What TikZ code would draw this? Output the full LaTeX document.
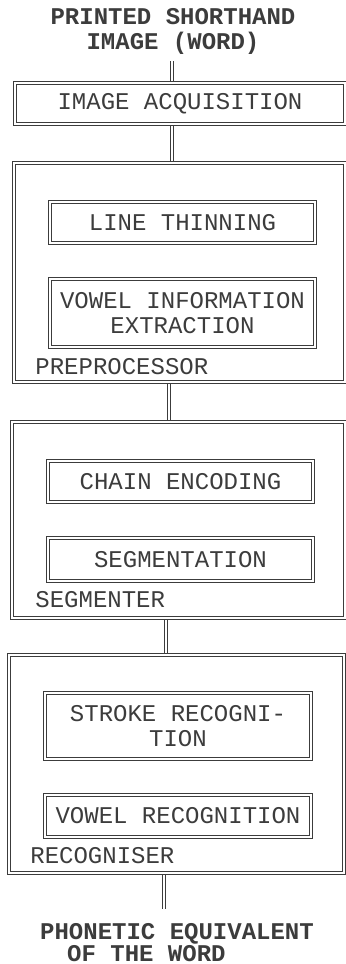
\documentclass[tikz,border=0pt]{standalone}
\usepackage{fontspec}
\setmainfont{Liberation Mono}
\usetikzlibrary{backgrounds}
\definecolor{ink}{RGB}{60,60,60}

\begin{document}
\begin{tikzpicture}[x=0.5pt,y=0.5pt,yscale=-1,
  font=\fontsize{12}{12.5}\selectfont,
  blk/.style={draw=ink,double=white,double distance=0.8pt,line width=0.6pt,text=ink,inner sep=0pt,align=center},
  lbl/.style={text=ink,inner sep=0pt,anchor=west},
  wire/.style={draw=ink,double=white,double distance=0.8pt,line width=0.6pt}]
\useasboundingbox (0,0) rectangle (346,964);
% Text Node
\node [text=ink,align=center,font=\fontsize{12}{12.5}\selectfont\bfseries] (title) at (173,31) {PRINTED SHORTHAND\\IMAGE (WORD)};
%Shape: Rectangle
\node [blk,minimum width=165pt,minimum height=20.5pt] (acq) at (180,103.5) {IMAGE ACQUISITION};
%Shape: Rectangle
\node [blk,minimum width=165.5pt,minimum height=109.5pt] (pre) at (179.5,272.5) {};
\node [blk,minimum width=132.5pt,minimum height=20.5pt] (thin) at (182.5,222.5) {LINE THINNING};
\node [blk,minimum width=132.5pt,minimum height=34pt] (vowinfo) at (182.5,313) {VOWEL INFORMATION\\EXTRACTION};
\node [lbl] (prelbl) at (35,367) {PREPROCESSOR};
%Shape: Rectangle
\node [blk,minimum width=166.5pt,minimum height=98pt] (seg) at (178.5,520) {};
\node [blk,minimum width=132.5pt,minimum height=20.5pt] (chain) at (180.5,481.5) {CHAIN ENCODING};
\node [blk,minimum width=132.5pt,minimum height=21.5pt] (segm) at (180.5,559.5) {SEGMENTATION};
\node [lbl] (seglbl) at (35,600) {SEGMENTER};
%Shape: Rectangle
\node [blk,minimum width=167.5pt,minimum height=109pt] (rec) at (176.5,764) {};
\node [blk,minimum width=133pt,minimum height=33pt] (stroke) at (178,726) {STROKE RECOGNI-\\TION};
\node [blk,minimum width=133pt,minimum height=21pt] (vowrec) at (178,816) {VOWEL RECOGNITION};
\node [lbl] (reclbl) at (30,856) {RECOGNISER};
% Text Node
\node [text=ink,align=left,font=\fontsize{12}{11}\selectfont\bfseries] (out) at (177,943) {PHONETIC EQUIVALENT\\\hspace*{13.5pt}OF THE WORD};
% Straight Lines
\coordinate (c1) at (172,0);
\coordinate (c3) at (169,0);
\coordinate (c4) at (166,0);
\coordinate (c5) at (164,0);
\begin{scope}[on background layer]
\draw [wire] (title.south -| c1) -- (acq.north -| c1);
\draw [wire] (acq.south -| c1) -- (pre.north -| c1);
\draw [wire] (pre.south -| c3) -- (seg.north -| c3);
\draw [wire] (seg.south -| c4) -- (rec.north -| c4);
\draw [wire,shorten >=4pt] (rec.south -| c5) -- (out.north -| c5);
\end{scope}
\end{tikzpicture}
\end{document}
